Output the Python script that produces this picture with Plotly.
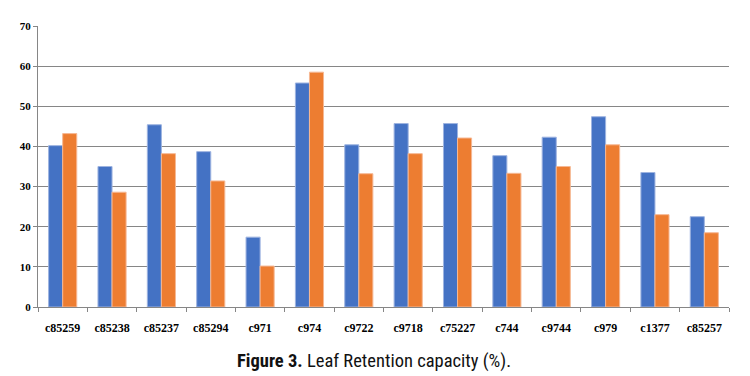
import plotly.graph_objects as go

categories = ["c85259", "c85238", "c85237", "c85294", "c971", "c974", "c9722",
              "c9718", "c75227", "c744", "c9744", "c979", "c1377", "c85257"]
series_a = [40.2, 35.0, 45.4, 38.7, 17.4, 55.8, 40.4, 45.7, 45.7, 37.7, 42.3, 47.4, 33.5, 22.5]
series_b = [43.2, 28.6, 38.2, 31.4, 10.2, 58.5, 33.2, 38.2, 42.1, 33.3, 35.0, 40.4, 23.0, 18.5]
y_ticks = [0, 10, 20, 30, 40, 50, 60, 70]

fig = go.Figure()
fig.add_trace(go.Bar(x=categories, y=series_a, name="A",
                     marker=dict(color="#4472C4", line=dict(color="#9DB3E0", width=1))))
fig.add_trace(go.Bar(x=categories, y=series_b, name="B",
                     marker=dict(color="#ED7D31", line=dict(color="#F6B894", width=1))))

# the page body adds an 8px margin, so the figure is sized to fit inside 750x376
fig.update_layout(
    width=742, height=368,
    margin=dict(l=29, r=21, t=14, b=69),
    paper_bgcolor="white", plot_bgcolor="white",
    barmode="group", bargap=0.43, bargroupgap=0,
    showlegend=False,
    font=dict(family="Liberation Serif", color="#000000"),
)
fig.update_xaxes(
    type="category",
    showline=True, linecolor="#868686", linewidth=1,
    ticks="outside", tickson="boundaries", ticklen=4, tickcolor="#868686",
    ticklabelstandoff=10,
    tickfont=dict(family="Liberation Serif", size=12, color="#000000", weight="bold"),
    showgrid=False,
)
fig.update_yaxes(
    range=[0, 70], tickvals=y_ticks,
    showline=True, linecolor="#868686", linewidth=1,
    showgrid=True, gridcolor="#868686", gridwidth=1,
    ticks="outside", ticklen=4, tickcolor="#868686",
    tickfont=dict(family="Liberation Serif", size=11, color="#000000", weight="bold"),
    zeroline=False,
)
fig.add_annotation(
    text="<b>Figure 3.</b> Leaf Retention capacity (%).",
    xref="paper", yref="paper", x=0.486, y=-0.193, xanchor="center", yanchor="middle",
    showarrow=False,
    font=dict(family="Liberation Sans Narrow, Roboto Condensed, Liberation Sans", size=18.5, color="#111111"),
)
fig.write_html("out.html")
